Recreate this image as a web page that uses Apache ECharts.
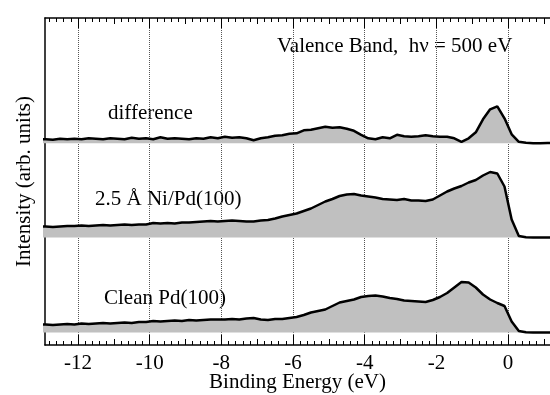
<!DOCTYPE html>
<html>
<head>
<meta charset="utf-8">
<script src="https://cdn.jsdelivr.net/npm/echarts@6/dist/echarts.min.js"></script>
<style>html,body{margin:0;padding:0;background:#fff}#main{width:550px;height:395px}</style>
</head>
<body>
<div id="main"></div>
<script>
// binding energy sample points (eV)
var energies = [-13.1,
  -12.9, -12.7, -12.5, -12.3, -12.1, -11.9, -11.7, -11.5, -11.3, -11.1,
  -10.9, -10.7, -10.5, -10.3, -10.1, -9.9, -9.7, -9.5, -9.3, -9.1,
  -8.9, -8.7, -8.5, -8.3, -8.1, -7.9, -7.7, -7.5, -7.3, -7.1,
  -6.9, -6.7, -6.5, -6.3, -6.1, -5.9, -5.7, -5.5, -5.3, -5.1,
  -4.9, -4.7, -4.5, -4.3, -4.1, -3.9, -3.7, -3.5, -3.3, -3.1,
  -2.9, -2.7, -2.5, -2.3, -2.1, -1.9, -1.7, -1.5, -1.3, -1.1,
  -0.9, -0.7, -0.5, -0.3, -0.1, 0.1, 0.3, 0.5, 0.7, 0.9,
  1.1, 1.3];

// intensities above each spectrum's own baseline
var difference = [4,
  4, 3.5, 4.5, 4, 4.5, 4, 5, 4.5, 4, 5,
  4.5, 4, 5.5, 4.5, 5, 4, 6, 4.5, 5, 4.5,
  4, 5, 4.5, 6, 5, 6.5, 5.5, 6, 5, 3,
  5, 6, 7.5, 8, 9.5, 10, 13, 13.5, 15, 16.5,
  15.5, 16, 14.5, 12.5, 8.5, 5, 4, 6, 5, 8.5,
  7, 6.5, 7, 8, 7, 6.5, 6.5, 5, 1.5, 5,
  11, 24, 34, 37, 25, 9, 1.5, 0.5, 0, 0,
  0.3, 0];
var niPd = [11,
  11, 10.5, 11, 11.5, 11.5, 12, 11.5, 12, 12.5, 12,
  12.5, 13, 12.5, 13, 13, 14.5, 14, 14.5, 14, 15,
  15, 15.5, 16, 16.5, 16, 16.5, 17, 16.5, 16, 16,
  17, 17.5, 19, 21, 22.5, 24, 26.5, 29, 32.5, 36,
  38.5, 41.5, 43, 43.5, 42, 41, 40, 38.5, 38, 37.5,
  38.5, 37, 37, 36.5, 38, 42, 46, 49, 51.5, 55,
  57.5, 62, 65.5, 64, 51, 18, 1.5, 0.3, 0, 0,
  0, 0];
var cleanPd = [8,
  8, 7.5, 8, 8.5, 8, 9, 8.5, 9, 9.5, 9,
  9.5, 10, 9.5, 10.5, 10.5, 11.5, 11, 11.5, 12, 11.5,
  12.5, 12, 12.5, 13, 13, 13, 13.5, 13, 14, 14.5,
  13, 12.5, 13.5, 13.5, 14.5, 15.5, 17.5, 20, 21.5, 23,
  26.5, 30, 31.5, 33, 35.5, 36.5, 37, 36, 34.5, 33.5,
  32, 31.5, 31, 30.5, 32.5, 35.5, 39.5, 45, 50.5, 50,
  45, 38, 33, 29.5, 26.5, 11, 1.5, 0.2, 0, 0,
  0, 0];

// vertical offsets of the three stacked spectra
var offsets = { difference: 201.7, niPd: 107.5, cleanPd: 12.5 };

var majorTicks = [-12, -10, -8, -6, -4, -2, 0];
var oddTicks = [-11, -9, -7, -5, -3, -1, 1];
var fineTicks = [];
for (var t = -128; t <= 10; t += 2) {
  if (t % 10 !== 0) fineTicks.push(t / 10);
}

var FONT = 'Liberation Serif';
var X_MIN = -12.92, X_MAX = 1.17;

function tickAxis(pos, values, len) {
  return {
    type: 'value', position: pos, min: X_MIN, max: X_MAX,
    axisLine: { show: false },
    axisTick: { show: true, inside: true, length: len, customValues: values,
      lineStyle: { color: '#000', width: 1 } },
    axisLabel: { show: false },
    splitLine: { show: false }
  };
}

function spectrum(vals, off) {
  return {
    type: 'line',
    data: energies.map(function (e, i) { return [e, off + vals[i]]; }),
    symbol: 'none',
    lineStyle: { color: '#000', width: 2.5 },
    areaStyle: { color: '#c0c0c0', opacity: 1, origin: off },
    silent: true
  };
}

var myChart = echarts.init(document.getElementById('main'));
myChart.setOption({
  animation: false,
  backgroundColor: '#fff',
  grid: { left: 45, right: 0, top: 18, bottom: 50, outerBoundsMode: 'none', containLabel: false },
  xAxis: [
    {
      type: 'value', position: 'bottom', min: X_MIN, max: X_MAX,
      name: 'Binding Energy (eV)', nameLocation: 'middle', nameGap: 27, nameMoveOverlap: false,
      nameTextStyle: { fontFamily: FONT, fontSize: 21, color: '#000' },
      axisLine: { show: true, onZero: false, lineStyle: { color: '#000', width: 1.5 } },
      axisTick: { show: true, inside: true, length: 10, customValues: majorTicks,
        lineStyle: { color: '#000', width: 1 } },
      axisLabel: { customValues: majorTicks, margin: 8,
        fontFamily: FONT, fontSize: 21, color: '#000' },
      splitLine: { show: true, lineStyle: { color: '#555', type: 'dotted', width: 1 } }
    },
    tickAxis('bottom', oddTicks, 6),
    tickAxis('bottom', fineTicks, 4),
    {
      type: 'value', position: 'top', min: X_MIN, max: X_MAX,
      axisLine: { show: true, onZero: false, lineStyle: { color: '#000', width: 1.5 } },
      axisTick: { show: true, inside: true, length: 10, customValues: majorTicks,
        lineStyle: { color: '#000', width: 1 } },
      axisLabel: { show: false },
      splitLine: { show: false }
    },
    tickAxis('top', oddTicks, 6),
    tickAxis('top', fineTicks, 4)
  ],
  yAxis: {
    type: 'value', min: 0, max: 327,
    name: 'Intensity (arb. units)', nameLocation: 'middle', nameGap: 10,
    nameTextStyle: { fontFamily: FONT, fontSize: 21, color: '#000' },
    axisLine: { show: true, onZero: false, lineStyle: { color: '#000', width: 1.5 } },
    axisTick: { show: false },
    axisLabel: { show: false },
    splitLine: { show: false }
  },
  graphic: [
    { type: 'text', left: 277, top: 36,
      style: { text: 'Valence Band,  h\u03bd = 500 eV', font: '21px "Liberation Serif"', fill: '#000' } },
    { type: 'text', left: 108, top: 103,
      style: { text: 'difference', font: '21px "Liberation Serif"', fill: '#000' } },
    { type: 'text', left: 95, top: 189,
      style: { text: '2.5 \u00c5 Ni/Pd(100)', font: '21px "Liberation Serif"', fill: '#000' } },
    { type: 'text', left: 104, top: 288,
      style: { text: 'Clean Pd(100)', font: '21px "Liberation Serif"', fill: '#000' } }
  ],
  series: [
    spectrum(difference, offsets.difference),
    spectrum(niPd, offsets.niPd),
    spectrum(cleanPd, offsets.cleanPd)
  ]
});
</script>
</body>
</html>
